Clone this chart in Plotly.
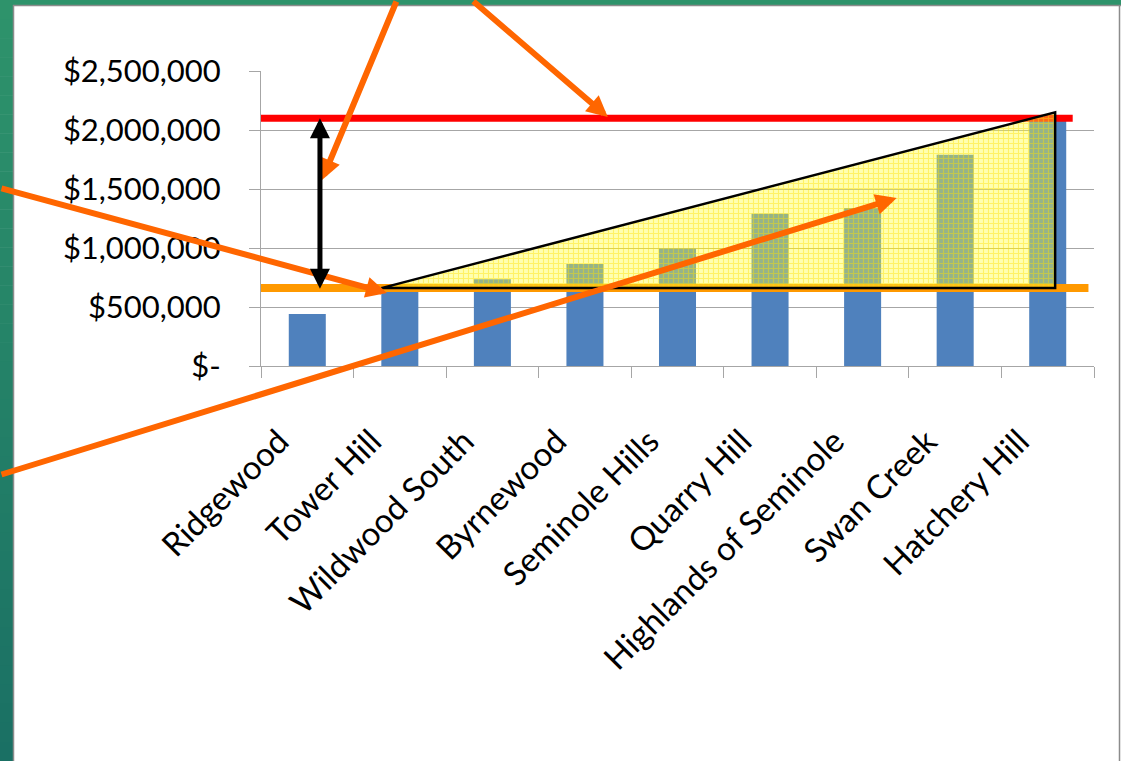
import plotly.graph_objects as go

# ---------------- data ----------------
categories = ["Ridgewood", "Tower Hill", "Wildwood South", "Byrnewood", "Seminole Hills",
              "Quarry Hill", "Highlands of Seminole", "Swan Creek", "Hatchery Hill"]
prices = [440000, 640000, 735000, 865000, 995000, 1290000, 1340000, 1790000, 2090000]

high_line = 2100000          # red reference line
low_line = 660000            # orange reference line
wedge_top = 2150000          # apex of the yellow wedge

y_tickvals = [0, 500000, 1000000, 1500000, 2000000, 2500000]
y_ticktext = ["$-", "$500,000", "$1,000,000", "$1,500,000", "$2,000,000", "$2,500,000"]

# ---------------- layout geometry ----------------
W, H = 1121, 761
L, R, T, B = 261, 1094, 71, 366


def px_x(p):
    return (p - L) / (R - L)


def px_y(p):
    return (B - p) / (B - T)


FONT = "Lato"
BLUE = "#4F81BD"
GRID = "#A6A6A6"

fig = go.Figure()

fig.add_trace(go.Bar(x=categories, y=prices, marker=dict(color=BLUE, line=dict(width=0)),
                     width=0.4, hoverinfo="skip", xaxis="x", yaxis="y"))

# reference lines + wedge on overlay numeric axis
fig.add_trace(go.Scatter(x=[-0.543, 8.44], y=[low_line, low_line], mode="lines",
                         line=dict(color="#FF9900", width=8), hoverinfo="skip",
                         xaxis="x2", yaxis="y"))
fig.add_trace(go.Scatter(x=[-0.543, 8.27], y=[high_line, high_line], mode="lines",
                         line=dict(color="#FF0000", width=7), hoverinfo="skip",
                         xaxis="x2", yaxis="y"))

wedge_x = [0.8, 8.08, 8.08, 0.8]
wedge_y = [low_line, wedge_top, low_line, low_line]
fig.add_trace(go.Scatter(x=wedge_x, y=wedge_y, mode="lines", fill="toself",
                         fillcolor="rgba(255,255,60,0.4)",
                         fillpattern=dict(shape="+", fgcolor="rgba(255,225,0,0.85)",
                                          bgcolor="rgba(255,255,60,0.4)", size=5, solidity=0.4),
                         line=dict(color="black", width=2.5), hoverinfo="skip",
                         xaxis="x2", yaxis="y"))

# ---------------- frame decorations ----------------
shapes = []
top_green = (46, 147, 107)
bot_green = (26, 112, 100)
N = 40
for i in range(N):
    y0 = i * H / N
    y1 = (i + 1) * H / N + 0.5
    f = i / (N - 1)
    c = tuple(int(round(top_green[k] + (bot_green[k] - top_green[k]) * f)) for k in range(3))
    shapes.append(dict(type="rect", xref="paper", yref="paper", layer="below",
                       x0=px_x(0), x1=px_x(13), y0=px_y(y0), y1=px_y(y1),
                       fillcolor="rgb(%d,%d,%d)" % c, line=dict(width=0)))
shapes.append(dict(type="rect", xref="paper", yref="paper", layer="below",
                   x0=px_x(0), x1=px_x(W), y0=px_y(0), y1=px_y(5),
                   fillcolor="rgb(%d,%d,%d)" % top_green, line=dict(width=0)))
shapes.append(dict(type="line", xref="paper", yref="paper", layer="below",
                   x0=px_x(13.5), x1=px_x(13.5), y0=px_y(5), y1=px_y(H),
                   line=dict(color="#8C8C8C", width=1.5)))
shapes.append(dict(type="line", xref="paper", yref="paper", layer="below",
                   x0=px_x(13), x1=px_x(W), y0=px_y(5.5), y1=px_y(5.5),
                   line=dict(color="#8C8C8C", width=1.5)))
shapes.append(dict(type="line", xref="paper", yref="paper", layer="below",
                   x0=px_x(1119.5), x1=px_x(1119.5), y0=px_y(5), y1=px_y(H),
                   line=dict(color="#8C8C8C", width=1.5)))

# ---------------- arrows ----------------
ORANGE = "#FF6600"
annotations = []
orange_arrows = [
    # (tip x on x2, tip y, tail dx px, tail dy px)
    (0.159, 1576000, 75, -185),
    (3.247, 2110000, -136, -122),
    (0.861, 619000, -397, -105),
    (6.368, 1424000, -907, 277),
]
for (xv, yv, dx, dy) in orange_arrows:
    annotations.append(dict(x=xv, y=yv, xref="x2", yref="y", ax=dx, ay=dy,
                            axref="pixel", ayref="pixel", text="", showarrow=True,
                            arrowhead=2, arrowsize=0.7, arrowwidth=6, arrowcolor=ORANGE))
annotations.append(dict(x=0.137, y=high_line, xref="x2", yref="y", ax=0, ay=172,
                        axref="pixel", ayref="pixel", text="", showarrow=True,
                        arrowhead=2, startarrowhead=2, arrowside="end+start",
                        arrowsize=0.8, startarrowsize=0.8, arrowwidth=5, arrowcolor="black"))

fig.update_layout(
    width=W, height=H,
    margin=dict(l=L, r=W - R, t=T, b=H - B, pad=0),
    paper_bgcolor="white", plot_bgcolor="white",
    showlegend=False, bargap=0.6,
    font=dict(family=FONT, color="black"),
    shapes=shapes, annotations=annotations,
    xaxis=dict(type="category", tickson="boundaries", ticks="outside", ticklen=11,
               tickcolor=GRID, tickwidth=1, showline=True, linecolor=GRID, linewidth=1,
               showgrid=False, tickangle=-45, tickfont=dict(size=33, family=FONT),
               ticklabelstandoff=42, ticklabelshift=-28, range=[-0.5, 8.5], fixedrange=True),
    xaxis2=dict(overlaying="x", range=[-0.5, 8.5], visible=False, fixedrange=True),
    yaxis=dict(range=[0, 2500000], tickvals=y_tickvals, ticktext=y_ticktext,
               ticks="outside", ticklen=11, tickcolor=GRID, tickwidth=1,
               showline=True, linecolor=GRID, linewidth=1,
               showgrid=True, gridcolor=GRID, gridwidth=1, zeroline=False,
               tickfont=dict(size=31, family=FONT), ticklabelstandoff=22, fixedrange=True),
)

fig.write_html("out.html")
